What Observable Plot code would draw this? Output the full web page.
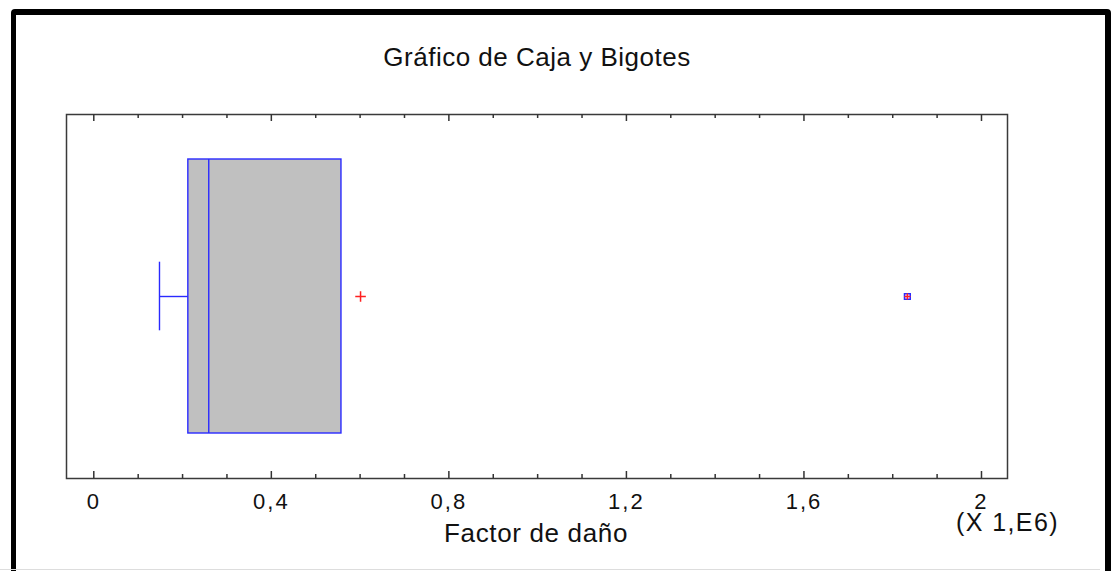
<!DOCTYPE html>
<html>
<head>
<meta charset="utf-8">
<script src="https://cdn.jsdelivr.net/npm/d3@7"></script>
<script src="https://cdn.jsdelivr.net/npm/@observablehq/plot@0.6"></script>
<style>
  html, body { margin: 0; padding: 0; background: #fff; width: 1112px; height: 571px; overflow: hidden; }
  #chart { position: absolute; left: 0; top: 0; }
  #border { position: absolute; left: 11px; top: 9px; width: 1100px; height: 640px; box-sizing: border-box;
            border: 6px solid #000; border-left-width: 5px; border-radius: 4px; pointer-events: none; }
  #baseline { position: absolute; left: 0; top: 569px; width: 1100px; height: 1px; background: #ddd; }
  .ticklbl text { letter-spacing: 2px; }
  .xlbl text { letter-spacing: 0.65px; }
  .mult text { letter-spacing: 1.4px; }
  .ttl text { letter-spacing: 0.5px; }
</style>
</head>
<body>
<div id="chart"></div>
<div id="border"></div>
<div id="baseline"></div>
<script>
// Data (values in millions, axis shown as "X 1,E6")
const category = ["Factor de daño"];
const lowerWhisker = [0.148];
const q1 = [0.213];
const median = [0.259];
const q3 = [0.558];
const mean = [0.601];
const farOutliers = [1.833];
const majorTicks = [0, 0.4, 0.8, 1.2, 1.6, 2.0];
const minorTicks = [0.1, 0.2, 0.3, 0.5, 0.6, 0.7, 0.9, 1.0, 1.1, 1.3, 1.4, 1.5, 1.7, 1.8, 1.9];
const tickLabels = ["0", "0,4", "0,8", "1,2", "1,6", "2"];
const titleText = "Gráfico de Caja y Bigotes";
const xLabel = "Factor de daño";
const multiplierLabel = "(X 1,E6)";

const W = 1112, H = 571;
const mTop = 114, mBottom = 93, mLeft = 66, mRight = 105;
const frameH = H - mTop - mBottom;

const boxRows = category.map((c, i) => ({cat: c, lo: lowerWhisker[i], q1: q1[i], med: median[i], q3: q3[i], mean: mean[i]}));
const outRows = farOutliers.map(v => ({cat: category[0], v}));
const majorRows = majorTicks.map((v, i) => ({v, label: tickLabels[i]}));

const font = "'Liberation Sans', Arial, sans-serif";
const blue = "#2a2aff";
const tickColor = "#333";

const chart = Plot.plot({
  width: W,
  height: H,
  marginTop: mTop,
  marginBottom: mBottom,
  marginLeft: mLeft,
  marginRight: mRight,
  style: {fontFamily: font, background: "transparent", color: "#111"},
  x: {domain: [-0.0615, 2.0586], axis: null},
  y: {type: "band", domain: category, paddingInner: 0, paddingOuter: 0.163, axis: null},
  marks: [
    // box
    Plot.barX(boxRows, {y: "cat", x1: "q1", x2: "q3", fill: "#c0c0c0", stroke: blue, strokeWidth: 1.4}),
    Plot.tickX(boxRows, {y: "cat", x: "med", stroke: blue, strokeWidth: 1.4}),
    // lower whisker
    Plot.ruleY(boxRows, {y: "cat", x1: "lo", x2: "q1", stroke: blue, strokeWidth: 1.4}),
    Plot.tickX(boxRows, {y: "cat", x: "lo", stroke: blue, strokeWidth: 1.4, insetTop: 102.7, insetBottom: 102.7}),
    // mean
    Plot.dot(boxRows, {y: "cat", x: "mean", symbol: "plus", r: 3.5, stroke: "#ff2020", strokeWidth: 1.5}),
    // far outlier
    Plot.dot(outRows, {y: "cat", x: "v", symbol: "square", r: 3.3, stroke: blue, strokeWidth: 1.4, fill: "#f0a0c0"}),
    Plot.dot(outRows, {y: "cat", x: "v", symbol: "plus", r: 2.2, stroke: "#ff2020", strokeWidth: 1.2}),
    // frame
    Plot.frame({stroke: "#3a3a3a", strokeWidth: 1.5}),
    // inward ticks bottom
    Plot.ruleX(majorTicks, {x: d => d, insetTop: frameH - 7, stroke: tickColor, strokeWidth: 1.5}),
    Plot.ruleX(minorTicks, {x: d => d, insetTop: frameH - 4, stroke: tickColor, strokeWidth: 1.5}),
    // inward ticks top
    Plot.ruleX(majorTicks, {x: d => d, insetBottom: frameH - 7, stroke: tickColor, strokeWidth: 1.5}),
    Plot.ruleX(minorTicks, {x: d => d, insetBottom: frameH - 4, stroke: tickColor, strokeWidth: 1.5}),
    // tick labels
    Plot.text(majorRows, {x: "v", text: "label", frameAnchor: "bottom", dx: 0, dy: 30, lineAnchor: "bottom",
      fontSize: 22, fill: "#111", className: "ticklbl"}),
    // axis label
    Plot.text([xLabel], {frameAnchor: "bottom", dx: -1, dy: 63.7, lineAnchor: "bottom", fontSize: 26, fill: "#111",
      className: "xlbl"}),
    Plot.text([multiplierLabel], {frameAnchor: "bottom-right", textAnchor: "middle", dx: 0, dy: 52, lineAnchor: "bottom",
      fontSize: 25, fill: "#111", className: "mult"}),
    // title
    Plot.text([titleText], {frameAnchor: "top", dx: 0, dy: -49, lineAnchor: "bottom", fontSize: 26, fill: "#111",
      className: "ttl"})
  ]
});
document.getElementById("chart").appendChild(chart);
</script>
</body>
</html>
